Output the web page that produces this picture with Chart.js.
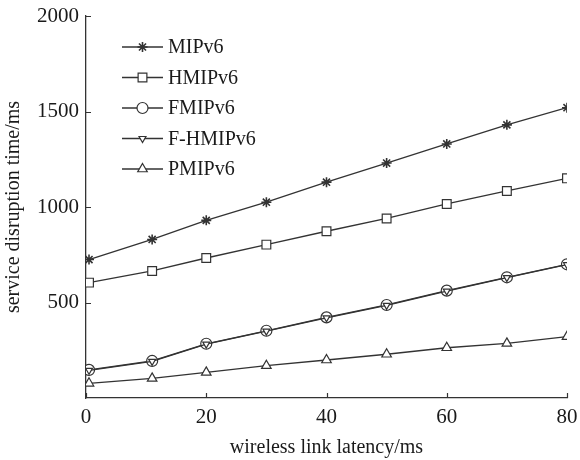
<!DOCTYPE html>
<html>
<head>
<meta charset="utf-8">
<script src="https://cdn.jsdelivr.net/npm/chart.js@4.4.1/dist/chart.umd.min.js"></script>
<style>
  html, body { margin: 0; padding: 0; background: #fff; }
  #wrap { width: 580px; height: 460px; }
</style>
</head>
<body>
<div id="wrap"><canvas id="chart" width="580" height="460"></canvas></div>
<script>
// valores
const latency = [0.5, 11, 20, 30, 40, 50, 60, 70, 80];
const mipv6 = [725, 830, 930, 1025, 1130, 1230, 1330, 1430, 1520];
const hmipv6 = [604, 665, 733, 803, 873, 940, 1016, 1084, 1150];
const fmipv6 = [147, 194, 284, 352, 422, 487, 562, 632, 700];
const fhmipv6 = [145, 192, 282, 350, 420, 485, 560, 630, 698];
const pmipv6 = [77, 103, 134, 169, 199, 229, 263, 286, 321];
const xTicks = [0, 20, 40, 60, 80];
const yTicks = [500, 1000, 1500, 2000];

const ink = '#333';
const textColor = '#1a1a1a';
const serif = "'Liberation Serif', 'Times New Roman', serif";

function pts(arr) {
    return latency.map((x, i) => ({ x: x, y: arr[i] }));
}

function serie(label, arr, style, radius, rot, order) {
    return {
        label: label,
        data: pts(arr),
        borderColor: ink,
        borderWidth: 1.3,
        pointStyle: style,
        pointRadius: radius,
        pointRotation: rot,
        pointBorderColor: ink,
        pointBackgroundColor: '#fff',
        pointBorderWidth: 1.2,
        fill: false,
        tension: 0,
        order: order
    };
}

const datasets = [
    serie('MIPv6', mipv6, 'star', 5, 0, 1),
    serie('HMIPv6', hmipv6, 'rect', 6.2, 0, 1),
    serie('FMIPv6', fmipv6, 'circle', 5.5, 0, 1),
    serie('F-HMIPv6', fhmipv6, 'triangle', 4, 180, 0),
    serie('PMIPv6', pmipv6, 'triangle', 5.5, 0, 1)
];
datasets[0].pointBorderWidth = 1.6;

// marcas de escala para dentro
const innerTicks = {
    id: 'innerTicks',
    afterDatasetsDraw(chart) {
        const ctx = chart.ctx;
        const xs = chart.scales.x, ys = chart.scales.y;
        ctx.save();
        ctx.strokeStyle = ink;
        ctx.lineWidth = 1.2;
        ctx.beginPath();
        xTicks.forEach(v => {
            const px = Math.round(xs.getPixelForValue(v)) + 0.5;
            ctx.moveTo(px, ys.bottom);
            ctx.lineTo(px, ys.bottom - 5);
        });
        yTicks.forEach(v => {
            const py = Math.round(ys.getPixelForValue(v)) + 0.5;
            ctx.moveTo(xs.left, py);
            ctx.lineTo(xs.left + 5, py);
        });
        ctx.stroke();
        ctx.restore();
    }
};

// legenda dentro da área do gráfico
const innerLegend = {
    id: 'innerLegend',
    afterDraw(chart) {
        const ctx = chart.ctx;
        const area = chart.chartArea;
        const x0 = area.left + 36, x1 = area.left + 77;
        ctx.save();
        ctx.font = '20px ' + serif;
        ctx.textBaseline = 'middle';
        chart.data.datasets.forEach((ds, i) => {
            const y = area.top + 31 + i * 30.5;
            ctx.strokeStyle = ink;
            ctx.lineWidth = 1.3;
            ctx.beginPath();
            ctx.moveTo(x0, y);
            ctx.lineTo(x1, y);
            ctx.stroke();
            const opts = {
                pointStyle: ds.pointStyle,
                radius: ds.pointRadius,
                rotation: ds.pointRotation,
                borderWidth: ds.pointBorderWidth
            };
            ctx.fillStyle = '#fff';
            ctx.strokeStyle = ink;
            ctx.lineWidth = ds.pointBorderWidth;
            if (Chart.helpers && Chart.helpers.drawPoint) {
                Chart.helpers.drawPoint(ctx, opts, (x0 + x1) / 2, y);
            }
            ctx.fillStyle = textColor;
            ctx.fillText(ds.label, x1 + 5, y + 1);
        });
        ctx.restore();
    }
};

const ctx = document.getElementById('chart').getContext('2d');
const chart = new Chart(ctx, {
    type: 'line',
    data: { datasets: datasets },
    plugins: [innerTicks, innerLegend],
    options: {
        responsive: false,
        animation: false,
        layout: { padding: { left: 0, right: 13, top: 16, bottom: 0 } },
        plugins: {
            legend: { display: false },
            tooltip: { enabled: false }
        },
        scales: {
            x: {
                type: 'linear',
                min: 0,
                max: 80,
                afterBuildTicks: s => { s.ticks = xTicks.map(v => ({ value: v })); },
                afterFit: s => {
                    s.height = 62;
                    s.paddingLeft = 0;
                    s.paddingRight = 0;
                },
                grid: { display: true, drawOnChartArea: false, drawTicks: false },
                border: { display: true, color: ink, width: 1.3 },
                ticks: {
                    padding: 7,
                    color: textColor,
                    font: { family: serif, size: 21 },
                    maxRotation: 0,
                    callback: v => String(v)
                },
                title: {
                    display: true,
                    text: 'wireless link latency/ms',
                    color: textColor,
                    font: { family: serif, size: 20 },
                    padding: { top: 0, bottom: 0 }
                }
            },
            y: {
                min: 0,
                max: 2000,
                afterBuildTicks: s => { s.ticks = yTicks.map(v => ({ value: v })); },
                afterFit: s => {
                    s.width = 86;
                    s.paddingTop = 0;
                    s.paddingBottom = 0;
                },
                grid: { display: true, drawOnChartArea: false, drawTicks: false },
                border: { display: true, color: ink, width: 1.3 },
                ticks: {
                    padding: 7,
                    color: textColor,
                    font: { family: serif, size: 21 },
                    callback: v => String(v)
                },
                title: {
                    display: true,
                    text: 'service disruption time/ms',
                    color: textColor,
                    font: { family: serif, size: 20 },
                    padding: { top: 2, bottom: 0 }
                }
            }
        }
    }
});
</script>
</body>
</html>
